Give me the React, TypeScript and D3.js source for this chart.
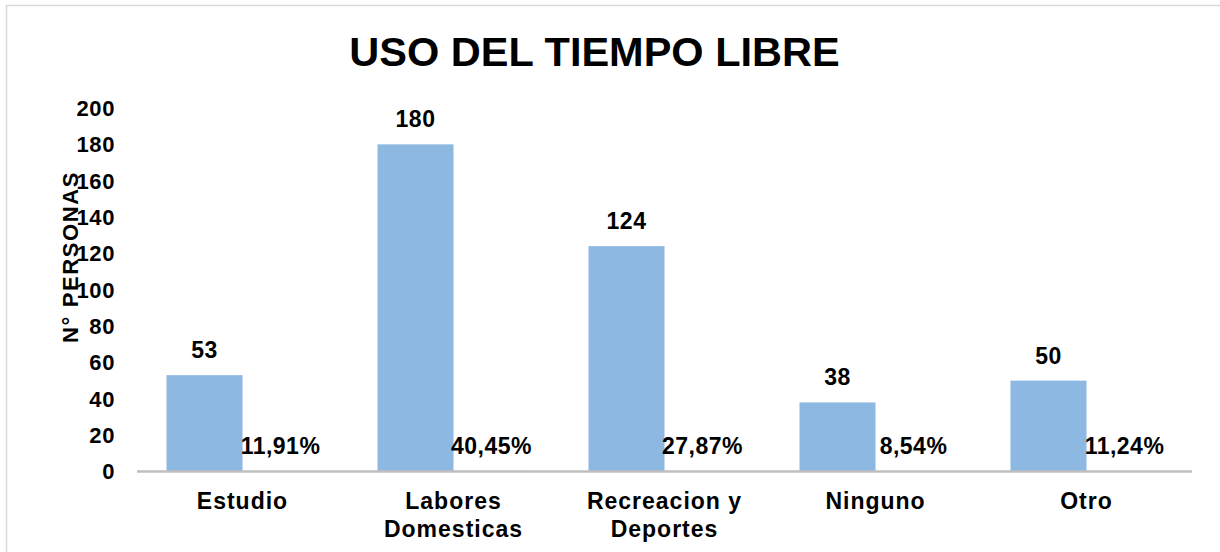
import React from "react";
import * as d3 from "d3";

const categories: string[][] = [
  ["Estudio"],
  ["Labores", "Domesticas"],
  ["Recreacion y", "Deportes"],
  ["Ninguno"],
  ["Otro"],
];
const counts: number[] = [53, 180, 124, 38, 50];
const percents: number[] = [0.1191, 0.4045, 0.2787, 0.0854, 0.1124];
const percentLabels: string[] = ["11,91%", "40,45%", "27,87%", "8,54%", "11,24%"];
const yTicks: number[] = [0, 20, 40, 60, 80, 100, 120, 140, 160, 180, 200];

const W = 1220;
const H = 552;
const FONT = "'Liberation Sans', Arial, sans-serif";
const BAR = "#8DB8E2";

export default function App() {
  const keys = categories.map((c) => c.join(" "));
  const x = d3.scaleBand<string>().domain(keys).range([137, 1192]).padding(0);
  const x1 = d3
    .scaleBand<string>()
    .domain(["count", "pct"])
    .range([0, x.bandwidth()])
    .paddingInner(0)
    .paddingOuter(0.388);
  const y = d3.scaleLinear().domain([0, 200]).range([471.5, 108]);

  return (
    <svg
      width={W}
      height={H}
      style={{ position: "absolute", left: 0, top: 0, background: "#fff" }}
      fontFamily={FONT}
      fontWeight="bold"
    >
      <rect x={0} y={0} width={W} height={H} fill="#fff" />
      <text x={73} y={-3} fontSize={14} fill="#000">y</text>
      <path d={`M6.5,${H} V5.5 H${W}`} fill="none" stroke="#d9d9d9" strokeWidth={1.5} />
      <text x={594.5} y={66} textAnchor="middle" fontSize={41.5} fill="#000">
        USO DEL TIEMPO LIBRE
      </text>
      {yTicks.map((t) => (
        <text key={t} x={115} y={y(t)} dy="0.36em" textAnchor="end" fontSize={22} letterSpacing={0.6} fill="#000">
          {t}
        </text>
      ))}
      <text
        transform={`translate(78,257) rotate(-90)`}
        textAnchor="middle"
        fontSize={22}
        letterSpacing={1.6}
        fill="#000"
      >
        N° PERSONAS
      </text>
      {keys.map((k, i) => {
        const bx = (x(k) as number) + (x1("count") as number);
        const px = (x(k) as number) + (x1("pct") as number);
        const bw = x1.bandwidth();
        return (
          <g key={k}>
            <rect x={bx} y={y(counts[i])} width={bw} height={y(0) - y(counts[i])} fill={BAR} />
            <rect x={px} y={y(percents[i])} width={bw} height={y(0) - y(percents[i])} fill={BAR} />
            <text x={bx + bw / 2} y={y(counts[i]) - 17} textAnchor="middle" fontSize={23} letterSpacing={0.5} fill="#000">
              {counts[i]}
            </text>
            <text x={px + bw / 2} y={y(percents[i]) - 17} textAnchor="middle" fontSize={23} letterSpacing={0.5} fill="#000">
              {percentLabels[i]}
            </text>
            {categories[i].map((line, j) => (
              <text
                key={j}
                x={(x(k) as number) + x.bandwidth() / 2}
                y={509 + j * 28}
                textAnchor="middle"
                fontSize={23}
                letterSpacing={1}
                fill="#000"
              >
                {line}
              </text>
            ))}
          </g>
        );
      })}
      <line x1={137} x2={1192} y1={y(0)} y2={y(0)} stroke="#bfbfbf" strokeWidth={2.5} />
    </svg>
  );
}
